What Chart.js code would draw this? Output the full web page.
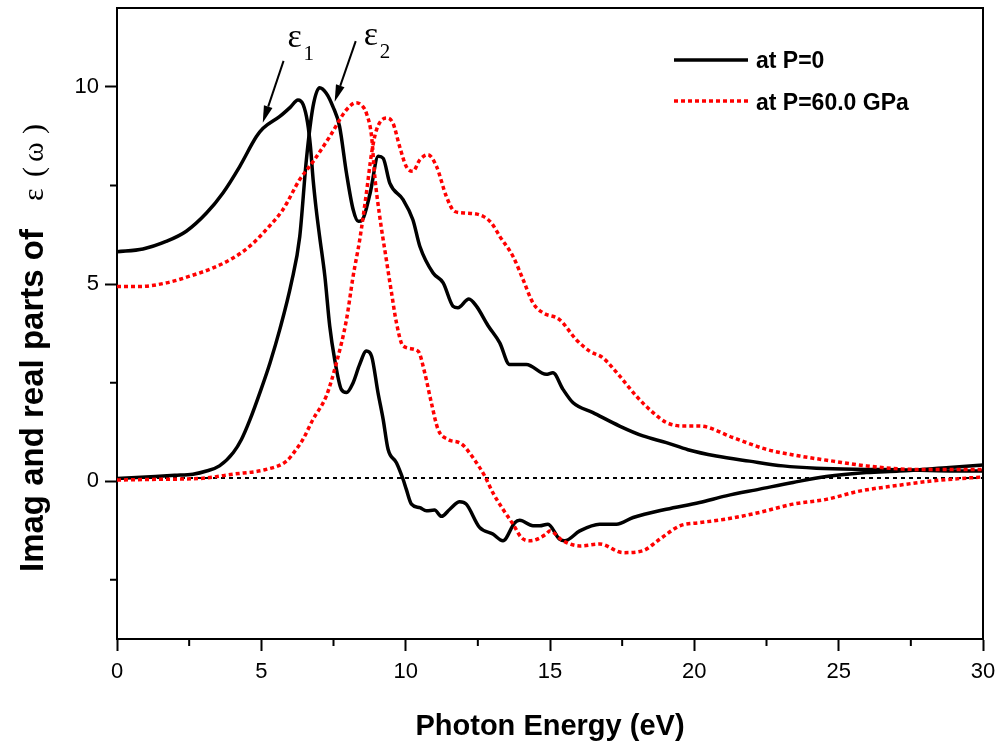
<!DOCTYPE html>
<html lang="en">
<head>
    <meta charset="UTF-8">
    <title>Dielectric function vs photon energy</title>
    <script src="https://cdn.jsdelivr.net/npm/chart.js"></script>
    <style>
        body { margin: 0; background: #fff; }
        #wrap { width: 1001px; height: 749px; }
    </style>
</head>
<body>
    <div id="wrap">
        <canvas id="myChart" width="1001" height="749"></canvas>
    </div>

    <script>
        // axis ticks
        const xTicks = [0, 5, 10, 15, 20, 25, 30];
        const xMinor = [2.5, 7.5, 12.5, 17.5, 22.5, 27.5];
        const yTicks = [0, 5, 10];
        const yMinor = [-2.5, 2.5, 7.5];

        // P = 0, real part (eps1)
        const e1P0x = [0, 0.9, 1.7, 2.4, 3.1, 3.67, 4.25, 4.83, 5.06, 5.64, 6.0, 6.27, 6.45, 6.6, 6.7, 6.8, 6.9, 7.02, 7.2, 7.37, 7.54, 7.77, 7.95, 8.18, 8.4, 8.64, 8.82, 9.04, 9.22, 9.39, 9.68, 9.91, 10.02, 10.2, 10.49, 10.72, 11.0, 11.24, 11.53, 11.87, 12.1, 12.56, 13.02, 13.37, 13.78, 13.95, 14.41, 14.64, 14.93, 15.33, 15.51, 16.03, 16.72, 17.3, 17.88, 19.03, 20.18, 21.1, 22.26, 23.42, 24.57, 25.96, 27.1, 28.84, 30];
        const e1P0y = [5.82, 5.89, 6.08, 6.34, 6.80, 7.31, 7.98, 8.74, 8.95, 9.25, 9.48, 9.67, 9.55, 9.1, 8.5, 7.6, 6.9, 6.2, 5.2, 3.93, 3.09, 2.33, 2.25, 2.5, 2.95, 3.30, 3.17, 2.25, 1.57, 0.81, 0.47, 0.05, -0.2, -0.58, -0.67, -0.75, -0.73, -0.89, -0.71, -0.52, -0.58, -1.17, -1.34, -1.51, -1.05, -0.99, -1.13, -1.13, -1.09, -1.47, -1.51, -1.26, -1.09, -1.09, -0.92, -0.71, -0.54, -0.37, -0.20, -0.03, 0.12, 0.22, 0.26, 0.35, 0.41];

        // P = 0, imaginary part (eps2)
        const e2P0x = [0, 1, 2, 2.63, 3.1, 3.55, 4.03, 4.31, 4.6, 5.0, 5.3, 5.64, 6.04, 6.33, 6.56, 6.79, 7.02, 7.25, 7.48, 7.71, 7.95, 8.18, 8.36, 8.5, 8.77, 9.05, 9.22, 9.45, 9.91, 10.25, 10.49, 10.95, 11.3, 11.64, 11.81, 12.19, 12.45, 12.85, 13.26, 13.6, 14.18, 14.87, 15.1, 15.45, 15.8, 16.49, 17.41, 18.22, 19.03, 19.78, 20.76, 21.91, 23.07, 24.23, 25.96, 27.1, 28.84, 30];
        const e2P0y = [0.07, 0.11, 0.15, 0.18, 0.26, 0.39, 0.73, 1.06, 1.55, 2.35, 3.0, 3.85, 5.03, 6.2, 8.15, 9.5, 9.98, 9.84, 9.5, 9.0, 7.81, 6.89, 6.59, 6.63, 7.31, 8.24, 8.19, 7.56, 7.14, 6.63, 5.96, 5.28, 5.03, 4.44, 4.40, 4.62, 4.44, 3.95, 3.51, 2.96, 2.96, 2.71, 2.75, 2.33, 1.99, 1.74, 1.40, 1.15, 0.98, 0.80, 0.64, 0.51, 0.39, 0.33, 0.30, 0.29, 0.26, 0.26];

        // P = 60 GPa, real part (eps1)
        const e1P60x = [0, 0.79, 1.71, 2.52, 3.33, 4.02, 4.6, 5.17, 5.75, 6.33, 6.79, 7.37, 7.95, 8.29, 8.52, 8.64, 8.82, 8.93, 9.1, 9.33, 9.51, 9.68, 9.91, 10.43, 10.66, 10.89, 11.12, 11.47, 11.93, 12.33, 12.74, 13.02, 13.37, 13.72, 14.01, 14.3, 14.87, 14.99, 15.45, 16.03, 16.72, 17.53, 18.22, 18.8, 19.5, 20.18, 21.1, 22.26, 23.42, 24.57, 25.72, 27.1, 28.26, 30];
        const e1P60y = [4.94, 4.94, 5.03, 5.2, 5.41, 5.66, 5.96, 6.38, 6.89, 7.65, 8.1, 8.74, 9.42, 9.6, 9.5, 9.33, 8.74, 7.73, 6.72, 5.62, 4.78, 4.02, 3.43, 3.30, 2.75, 1.99, 1.32, 1.06, 0.95, 0.6, 0.13, -0.29, -0.71, -1.09, -1.43, -1.51, -1.34, -1.26, -1.51, -1.64, -1.59, -1.81, -1.76, -1.47, -1.13, -1.05, -0.96, -0.79, -0.58, -0.46, -0.25, -0.10, 0.01, 0.11];

        // P = 60 GPa, imaginary part (eps2)
        const e2P60x = [0, 1.5, 2.86, 4.03, 5.17, 5.87, 6.21, 6.44, 6.79, 7.25, 7.6, 7.95, 8.18, 8.41, 8.64, 8.82, 8.99, 9.33, 9.56, 9.79, 10.02, 10.25, 10.49, 10.77, 11.07, 11.41, 11.7, 12.1, 12.68, 12.97, 13.26, 13.72, 14.07, 14.41, 14.76, 15.33, 15.91, 16.37, 16.83, 17.41, 17.99, 18.57, 19.03, 19.61, 20.18, 21.33, 22.49, 23.65, 24.8, 25.96, 27.69, 30];
        const e2P60y = [0.03, 0.05, 0.07, 0.18, 0.30, 0.51, 0.81, 1.06, 1.57, 2.16, 3.0, 4.1, 5.2, 6.13, 7.31, 8.32, 8.91, 9.21, 9.08, 8.49, 7.98, 7.86, 8.15, 8.28, 7.98, 7.22, 6.84, 6.80, 6.72, 6.55, 6.21, 5.70, 5.11, 4.52, 4.27, 4.10, 3.59, 3.30, 3.13, 2.67, 2.16, 1.74, 1.49, 1.40, 1.40, 1.11, 0.81, 0.64, 0.51, 0.39, 0.30, 0.30];

        // zero reference line
        const zeroX = [0, 30];
        const zeroY = [0.08, 0.08];

        const SANS = "'Liberation Sans', Arial, sans-serif";
        const SERIF = "'Liberation Serif', 'Times New Roman', serif";
        Chart.defaults.font.family = SANS;
        Chart.defaults.color = '#000';

        function pts(xs, ys) {
            return xs.map((x, i) => ({ x: x, y: ys[i] }));
        }

        function line(data, color, dash) {
            return {
                data: data,
                borderColor: color,
                borderWidth: dash ? 3.5 : 3.5,
                borderDash: dash || [],
                pointRadius: 0,
                showLine: true,
                fill: false,
                cubicInterpolationMode: 'monotone'
            };
        }

        // minor ticks, frame, titles, legend and labels
        const extras = {
            id: 'extras',
            afterDraw(chart) {
                const c = chart.ctx;
                const a = chart.chartArea;
                const xs = chart.scales.x, ys = chart.scales.y;
                c.save();
                c.strokeStyle = '#000';
                c.fillStyle = '#000';

                // top and right frame
                c.lineWidth = 2;
                c.beginPath();
                c.moveTo(a.left, a.top); c.lineTo(a.right, a.top); c.lineTo(a.right, a.bottom);
                c.stroke();

                // minor ticks
                c.beginPath();
                xMinor.forEach(v => { const p = xs.getPixelForValue(v); c.moveTo(p, a.bottom); c.lineTo(p, a.bottom + 7); });
                yMinor.forEach(v => { const p = ys.getPixelForValue(v); c.moveTo(a.left, p); c.lineTo(a.left - 7, p); });
                c.stroke();

                // x title
                c.font = 'bold 29px ' + SANS;
                c.textAlign = 'center';
                c.textBaseline = 'alphabetic';
                c.fillText('Photon Energy (eV)', (a.left + a.right) / 2, 735);

                // y title
                c.save();
                c.translate(43, 572);
                c.rotate(-Math.PI / 2);
                c.textAlign = 'left';
                c.font = 'bold 33px ' + SANS;
                c.fillText('Imag and real parts of', 0, 0);
                c.font = '30px ' + SERIF;
                c.fillText('\u03b5', 371, 0);
                c.fillText('(', 395, 0);
                c.fillText('\u03c9', 410, 0);
                c.fillText(')', 438, 0);
                c.restore();

                // legend
                c.textAlign = 'left';
                c.lineWidth = 3.5;
                c.beginPath(); c.moveTo(674, 60); c.lineTo(748, 60); c.stroke();
                c.strokeStyle = '#ff0000';
                c.setLineDash([4, 3]);
                c.beginPath(); c.moveTo(674, 101); c.lineTo(748, 101); c.stroke();
                c.setLineDash([]);
                c.font = 'bold 23px ' + SANS;
                c.fillText('at P=0', 756, 68);
                c.fillText('at P=60.0 GPa', 756, 110);

                // eps labels with arrows
                c.strokeStyle = '#000';
                function arrow(x0, y0, x1, y1) {
                    const px0 = xs.getPixelForValue(x0), py0 = ys.getPixelForValue(y0);
                    const px1 = xs.getPixelForValue(x1), py1 = ys.getPixelForValue(y1);
                    const ang = Math.atan2(py1 - py0, px1 - px0);
                    const hl = 17, hw = 4.5;
                    const bx = px1 - hl * Math.cos(ang), by = py1 - hl * Math.sin(ang);
                    c.lineWidth = 2;
                    c.beginPath(); c.moveTo(px0, py0); c.lineTo(bx, by); c.stroke();
                    c.beginPath();
                    c.moveTo(px1, py1);
                    c.lineTo(bx + hw * Math.sin(ang), by - hw * Math.cos(ang));
                    c.lineTo(bx - hw * Math.sin(ang), by + hw * Math.cos(ang));
                    c.closePath();
                    c.fill();
                }
                function eps(x, y, sub) {
                    const px = xs.getPixelForValue(x), py = ys.getPixelForValue(y);
                    c.font = '34px ' + SERIF;
                    c.fillText('\u03b5', px, py);
                    c.font = '21px ' + SERIF;
                    c.fillText(sub, px + 16, py + 13);
                }
                arrow(5.77, 10.66, 5.05, 9.09);
                arrow(8.27, 11.16, 7.54, 9.62);
                eps(5.91, 11.01, '1');
                eps(8.55, 11.06, '2');

                c.restore();
            }
        };

        const ctx = document.getElementById('myChart').getContext('2d');
        window.myChart = new Chart(ctx, {
            type: 'scatter',
            data: {
                datasets: [
                    line(pts(e1P60x, e1P60y), '#ff0000', [4, 3]),
                    line(pts(e2P60x, e2P60y), '#ff0000', [4, 3]),
                    line(pts(e1P0x, e1P0y), '#000000'),
                    line(pts(e2P0x, e2P0y), '#000000'),
                    Object.assign(line(pts(zeroX, zeroY), '#000000', [4, 4]), { borderWidth: 2 })
                ]
            },
            options: {
                responsive: false,
                animation: false,
                layout: { padding: { top: 8, right: 18, left: 0, bottom: 0 } },
                plugins: {
                    legend: { display: false },
                    tooltip: { enabled: false }
                },
                scales: {
                    x: {
                        type: 'linear',
                        min: 0,
                        max: 30,
                        afterFit: s => { s.height = 110; s.paddingLeft = 0; s.paddingRight = 0; },
                        afterBuildTicks: s => { s.ticks = xTicks.map(v => ({ value: v })); },
                        grid: { drawOnChartArea: false, tickLength: 12, tickWidth: 2, tickColor: '#000' },
                        border: { color: '#000', width: 2 },
                        ticks: { color: '#000', font: { size: 22 }, padding: 8, maxRotation: 0 }
                    },
                    y: {
                        type: 'linear',
                        min: -4,
                        max: 12,
                        afterFit: s => { s.width = 117; s.paddingTop = 0; s.paddingBottom = 0; },
                        afterBuildTicks: s => { s.ticks = yTicks.map(v => ({ value: v })); },
                        grid: { drawOnChartArea: false, tickLength: 12, tickWidth: 2, tickColor: '#000' },
                        border: { color: '#000', width: 2 },
                        ticks: { color: '#000', font: { size: 22 }, padding: 6 }
                    }
                }
            },
            plugins: [extras]
        });
    </script>
</body>
</html>
